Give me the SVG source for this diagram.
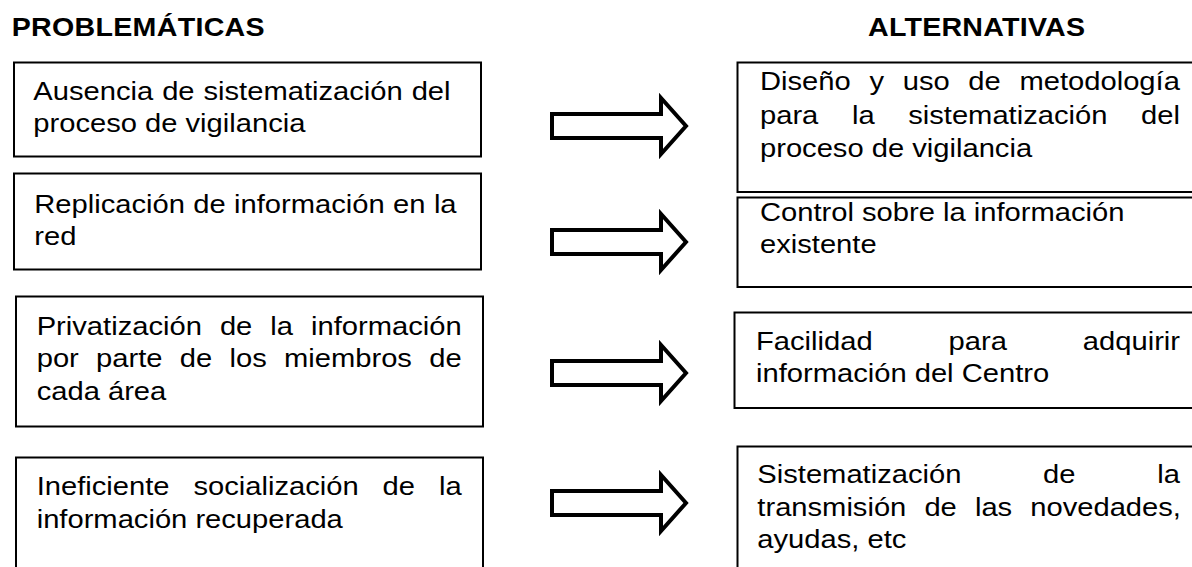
<svg xmlns="http://www.w3.org/2000/svg" xmlns:xlink="http://www.w3.org/1999/xlink" width="1192" height="567" viewBox="0 0 1192 567">
<style>
.box{fill:#fff;stroke:#000;stroke-width:2}
.arr{fill:#fff;stroke:#000;stroke-width:4;stroke-linejoin:miter}
.t{font-family:"Liberation Sans",Arial,sans-serif;font-size:26.5px;fill:#000}
.h{font-family:"Liberation Sans",Arial,sans-serif;font-size:26px;font-weight:bold;fill:#000}
</style>
<defs>
<polygon id="arrow" class="arr" points="552,-12 661,-12 661,-28 686,0 661,28 661,12 552,12"/>
</defs>
<rect width="1192" height="567" fill="#fff"/>
<g id="headings" transform="scale(1.1 1)">
<text class="h" x="10.6" y="36" textLength="230" lengthAdjust="spacing">PROBLEMÁTICAS</text>
<text class="h" x="789.1" y="36" textLength="197.3" lengthAdjust="spacing">ALTERNATIVAS</text>
</g>
<g id="p1">
<rect class="box" x="14" y="62.5" width="467" height="94"/>
<g transform="scale(1.1 1)">
<text class="t" x="30.27" y="100" word-spacing="0.8">Ausencia de sistematización del</text>
<text class="t" x="30.27" y="132">proceso de vigilancia</text>
</g>
</g>
<g id="p2">
<rect class="box" x="14" y="173.5" width="467" height="96"/>
<g transform="scale(1.1 1)">
<text class="t" x="31.18" y="213" word-spacing="0.27">Replicación de información en la</text>
<text class="t" x="31.18" y="245">red</text>
</g>
</g>
<g id="p3">
<rect class="box" x="16" y="296.5" width="467" height="130"/>
<g transform="scale(1.1 1)">
<text class="t" x="33.36" y="335" word-spacing="9.03">Privatización de la información</text>
<text class="t" x="33.36" y="367.5" word-spacing="8.36">por parte de los miembros de</text>
<text class="t" x="33.36" y="400">cada área</text>
</g>
</g>
<g id="p4">
<rect class="box" x="16" y="457.5" width="467" height="130"/>
<g transform="scale(1.1 1)">
<text class="t" x="33.36" y="495" word-spacing="14.4">Ineficiente socialización de la</text>
<text class="t" x="33.36" y="528">información recuperada</text>
</g>
</g>
<g id="a1">
<rect class="box" x="737.5" y="62.5" width="470" height="129.5"/>
<g transform="scale(1.1 1)">
<text class="t" x="690.9" y="90.5" word-spacing="9.65">Diseño y uso de metodología</text>
<text class="t" x="690.9" y="124" word-spacing="23.2">para la sistematización del</text>
<text class="t" x="690.9" y="157.5">proceso de vigilancia</text>
</g>
</g>
<g id="a2">
<rect class="box" x="737.5" y="197.5" width="470" height="89.5"/>
<g transform="scale(1.1 1)">
<text class="t" x="690.9" y="221.5">Control sobre la información</text>
<text class="t" x="690.9" y="253.5">existente</text>
</g>
</g>
<g id="a3">
<rect class="box" x="734.5" y="312.5" width="470" height="95.5"/>
<g transform="scale(1.1 1)">
<text class="t" x="687.3" y="350" word-spacing="61.7">Facilidad para adquirir</text>
<text class="t" x="687.3" y="382.5">información del Centro</text>
</g>
</g>
<g id="a4">
<rect class="box" x="737.5" y="446.5" width="470" height="140"/>
<g transform="scale(1.1 1)">
<text class="t" x="688.5" y="483.3" word-spacing="66.95">Sistematización de la</text>
<text class="t" x="688.5" y="516" word-spacing="9.1">transmisión de las novedades,</text>
<text class="t" x="688.5" y="548.5">ayudas, etc</text>
</g>
</g>
<g id="connectors">
<use xlink:href="#arrow" href="#arrow" y="126"/>
<use xlink:href="#arrow" href="#arrow" y="242"/>
<use xlink:href="#arrow" href="#arrow" y="373"/>
<use xlink:href="#arrow" href="#arrow" y="503"/>
</g>
</svg>
